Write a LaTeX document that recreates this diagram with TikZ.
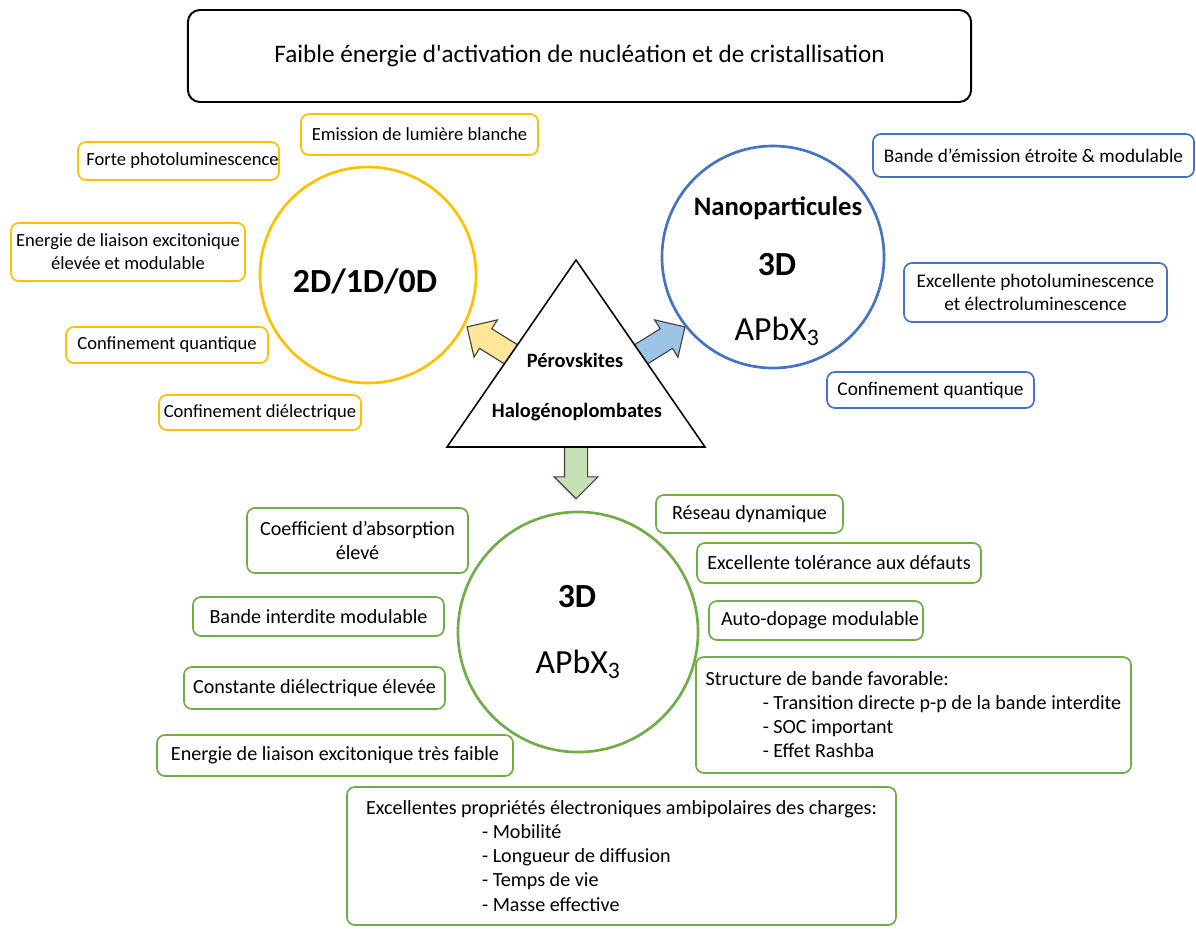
\documentclass[tikz,border=0pt]{standalone}
\usepackage{fontspec}
\setmainfont{Carlito}
\usepackage{tikz}
\usetikzlibrary{shapes.geometric, shapes.arrows, positioning}

\definecolor{jaune}{HTML}{FFC000}
\definecolor{bleu}{HTML}{4472C4}
\definecolor{vert}{HTML}{70AD47}
\definecolor{jauneclair}{HTML}{FFE699}
\definecolor{bleuclair}{HTML}{9DC3E6}
\definecolor{vertclair}{HTML}{C5E0B4}

\begin{document}
\begin{tikzpicture}[x=0.025cm, y=-0.025cm,
        prop/.style={draw, rounded corners=0.2cm, line width=1.2pt, fill=white, align=center, inner xsep=0pt, inner ysep=0.1cm},
        yprop/.style={prop, draw=jaune, font=\fontsize{13.2}{16.5}\selectfont},
        bprop/.style={prop, draw=bleu, font=\fontsize{13.7}{16.8}\selectfont},
        gprop/.style={prop, draw=vert, font=\fontsize{14.3}{17.1}\selectfont},
        phase/.style={circle, draw, line width=1.9pt, fill=white, inner sep=0pt},
        big/.style={anchor=base, font=\fontsize{24}{28}\selectfont},
        bigb/.style={anchor=base, font=\fontsize{24}{28}\selectfont\bfseries},
        tri/.style={anchor=base, font=\fontsize{14.5}{17}\selectfont\bfseries},
        flow/.style={single arrow, draw=black!75, line width=0.8pt, inner sep=0.275cm, single arrow head extend=0.26cm, minimum width=1.075cm}
    ]
    \useasboundingbox (0,0) rectangle (1196,928);

    % Top banner
    \node[draw, rounded corners=0.3cm, line width=1.4pt, minimum width=19.575cm, minimum height=2.3cm, font=\fontsize{17.9}{21}\selectfont] (banner) at (579.5,56) {Faible énergie d\textquotesingle activation de nucléation et de cristallisation};

    % Block arrows (tails hidden under the triangle)
    \node[flow, fill=jauneclair, minimum height=1.4cm, rotate=148] (toLow) at (495.7,344.8) {};
    \node[flow, fill=bleuclair, minimum height=1.4cm, rotate=32] (toNano) at (656.3,344.8) {};
    \node[flow, fill=vertclair, minimum height=1.325cm, rotate=-90] (toBulk) at (576,466.5) {};

    % Central triangle
    \coordinate (apex) at (576,260);
    \coordinate (baseL) at (447,447);
    \coordinate (baseR) at (705,447);
    \draw[line width=1.1pt, fill=white] (apex) -- (baseL) -- (baseR) -- cycle;
    \node[tri] (perov) at (575,367) {Pérovskites};
    \node[tri] (halo) at (577,417) {Halogénoplombates};

    % Low-dimensional phase (yellow)
    \node[phase, draw=jaune, minimum size=5.4cm] (low) at (368,275) {};
    \node[bigb] (lowlbl) at (365,292) {2D/1D/0D};
    \node[yprop, minimum width=5.925cm, minimum height=1.025cm] (y1) at (419.5,134.5) {Emission de lumière blanche};
    \node[yprop, minimum width=5.025cm, minimum height=0.95cm] (y2) at (178.5,161) {\hspace*{0.2cm}Forte photoluminescence};
    \node[yprop, minimum width=5.85cm, minimum height=1.45cm] (y3) at (128,252) {Energie de liaison excitonique\\élevée et modulable};
    \node[yprop, minimum width=5.05cm, minimum height=0.9cm] (y4) at (167,345) {Confinement quantique};
    \node[yprop, minimum width=5.05cm, minimum height=0.875cm] (y5) at (260,412.5) {Confinement diélectrique};

    % Nanoparticles (blue)
    \node[phase, draw=bleu, minimum size=5.55cm] (nano) at (773,257) {};
    \node[anchor=base, font=\fontsize{19}{22}\selectfont\bfseries] (nanolbl) at (778,215) {Nanoparticules};
    \node[bigb] (nanodim) at (777,275) {3D};
    \node[big] (nanoform) at (777,340) {APbX\textsubscript{3}};
    \node[bprop, minimum width=8.025cm, minimum height=1.075cm] (b1) at (1033.5,155.5) {Bande d’émission étroite \& modulable};
    \node[bprop, minimum width=6.575cm, minimum height=1.475cm] (b2) at (1035.5,292.5) {Excellente photoluminescence\\et électroluminescence};
    \node[bprop, minimum width=5.175cm, minimum height=0.9cm] (b3) at (930.5,390) {Confinement quantique};

    % Bulk 3D (green)
    \node[phase, draw=vert, minimum size=6cm] (bulk) at (578,632) {};
    \node[bigb] (bulkdim) at (577,607) {3D};
    \node[big] (bulkform) at (578,673) {APbX\textsubscript{3}};
    \node[gprop, minimum width=5.525cm, minimum height=1.625cm] (g1) at (357.5,540.5) {Coefficient d’absorption\\élevé};
    \node[gprop, minimum width=6.275cm, minimum height=0.975cm] (g2) at (318.5,616.5) {Bande interdite modulable};
    \node[gprop, minimum width=6.525cm, minimum height=1.05cm] (g3) at (314.5,688) {Constante diélectrique élevée};
    \node[gprop, minimum width=8.9cm, minimum height=1.025cm] (g4) at (335,755.5) {Energie de liaison excitonique très faible};
    \node[gprop, minimum width=4.675cm, minimum height=0.95cm] (g5) at (749.5,514) {Réseau dynamique};
    \node[gprop, minimum width=7.1cm, minimum height=1cm] (g6) at (839,563) {Excellente tolérance aux défauts};
    \node[gprop, minimum width=5.35cm, minimum height=0.975cm] (g7) at (816,620.5) {\hspace*{0.2cm}Auto-dopage modulable};
    \node[gprop, align=left, minimum width=10.875cm, minimum height=2.9cm] (g8) at (913.5,715) {Structure de bande favorable:\\
        \hspace*{1.425cm}- Transition directe p-p de la bande interdite\\
        \hspace*{1.425cm}- SOC important\\
        \hspace*{1.425cm}- Effet Rashba};
    \node[gprop, align=left, minimum width=13.725cm, minimum height=3.45cm] (g9) at (621.5,856) {Excellentes propriétés électroniques ambipolaires des charges:\\
        \hspace*{2.9cm}- Mobilité\\
        \hspace*{2.9cm}- Longueur de diffusion\\
        \hspace*{2.9cm}- Temps de vie\\
        \hspace*{2.9cm}- Masse effective};

\end{tikzpicture}
\end{document}
